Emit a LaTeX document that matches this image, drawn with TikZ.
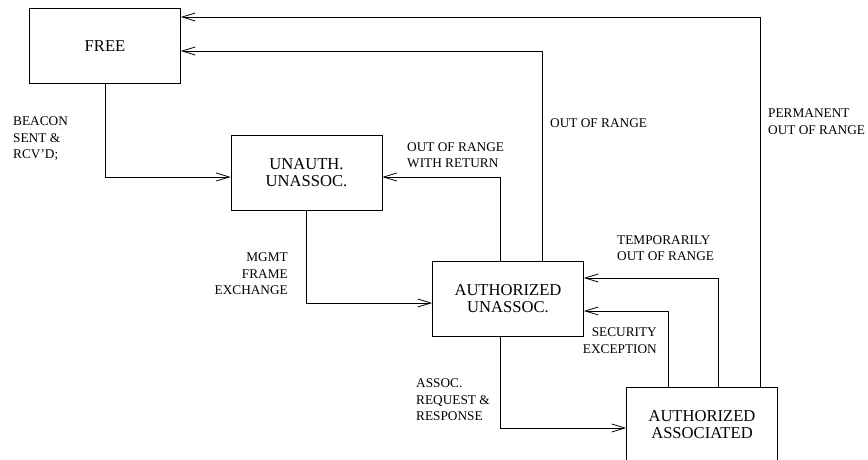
\documentclass[tikz,border=0pt]{standalone}
\usepackage{fontspec}
\setmainfont{Liberation Serif}
\usepackage{tikz}
\usetikzlibrary{arrows.meta, positioning, calc}

\newcommand{\boxfont}{\fontsize{16.6}{16.5}\selectfont}
\newcommand{\lblfont}{\fontsize{13.3}{16.5}\selectfont}

\begin{document}
\begin{tikzpicture}[x=1pt, y=-1pt,
    statebox/.style={draw, line width=0.8pt, rectangle, minimum width=151pt,
      minimum height=75pt, inner sep=0pt, align=center, font=\boxfont},
    lbl/.style={inner sep=0pt, font=\lblfont},
    link/.style={draw, line width=0.8pt, -{Straight Barb[length=13pt, width=8pt, line width=0.8pt]}}]
  \useasboundingbox (0,0) rectangle (868,459);
  \clip (0,0) rectangle (868,459);

  % states
  \node[statebox] (free)   at (105,46)    {FREE};
  \node[statebox] (unauth) at (306.5,172.5) {UNAUTH.\\UNASSOC.};
  \node[statebox] (authun) at (508,298.5) {AUTHORIZED\\UNASSOC.};
  \node[statebox] (authas) at (702,424.5) {AUTHORIZED\\ASSOCIATED};

  % forward transitions
  \draw[link] (free.south) |- ([yshift=-4.5pt]unauth.west);
  \draw[link] (unauth.south) |- ([yshift=-4.5pt]authun.west);
  \draw[link] ([xshift=-8pt]authun.south) |- ([yshift=-3.5pt]authas.west);

  % backward transitions
  \draw[link] ([xshift=-8pt]authun.north) |- ([yshift=-4.5pt]unauth.east);
  \draw[link] ([xshift=34pt]authun.north) |- ([yshift=-5pt]free.east);
  \draw[link] ([xshift=58pt]authas.north) |- ([yshift=29pt]free.east);
  \draw[link] ([xshift=16pt]authas.north) |- ([yshift=20.5pt]authun.east);
  \draw[link] ([xshift=-34pt]authas.north) |- ([yshift=-12.5pt]authun.east);

  % labels
  \node[lbl, anchor=west, align=left]  (beacon) at (13,139)  {BEACON\\SENT \&\\RCV'D;};
  \node[lbl, anchor=east, align=right] (mgmt)   at (288,274) {MGMT\\FRAME\\EXCHANGE};
  \node[lbl, anchor=west, align=left]  (oorret) at (407,155) {OUT OF RANGE\\WITH RETURN};
  \node[lbl, anchor=west, align=left]  (oor)    at (550,123) {OUT OF RANGE};
  \node[lbl, anchor=west, align=left]  (perm)   at (768,121.5) {PERMANENT\\OUT OF RANGE};
  \node[lbl, anchor=west, align=left]  (temp)   at (617,248) {TEMPORARILY\\OUT OF RANGE};
  \node[lbl, anchor=east, align=right] (secx)   at (657,340.5) {SECURITY\\EXCEPTION};
  \node[lbl, anchor=west, align=left]  (assoc)  at (416,400) {ASSOC.\\REQUEST \&\\RESPONSE};
\end{tikzpicture}
\end{document}
